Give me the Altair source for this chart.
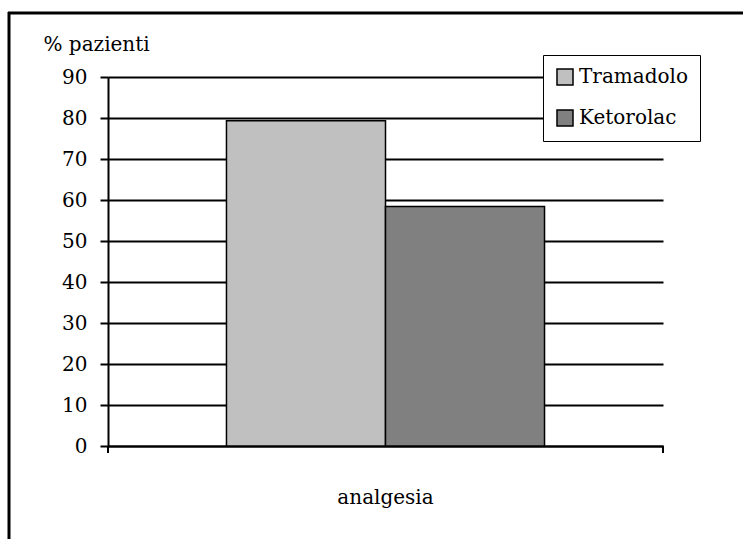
import altair as alt
import pandas as pd

categories = ["analgesia"]
series = ["Tramadolo", "Ketorolac"]
values = [79.3, 58.4]
y_ticks = [0, 10, 20, 30, 40, 50, 60, 70, 80, 90]
colors = ["#C0C0C0", "#808080"]

FONT = "DejaVu Serif"
FS = 20

df = pd.DataFrame({
    "cat": [categories[0]] * len(series),
    "serie": series,
    "val": values,
})

bars = alt.Chart(df).mark_bar(stroke="black", strokeWidth=1.5).encode(
    x=alt.X("cat:N", title=None,
            scale=alt.Scale(paddingInner=0, paddingOuter=0),
            axis=alt.Axis(labelAngle=0, ticks=False, tickSize=0, labelPadding=57,
                          labelBaseline="alphabetic", labelFont=FONT, labelFontSize=FS,
                          labelColor="black", domainColor="black", domainWidth=2)),
    xOffset=alt.XOffset("serie:N", sort=series,
                        scale=alt.Scale(paddingInner=0, paddingOuter=0.745)),
    y=alt.Y("val:Q",
            scale=alt.Scale(domain=[0, 90], nice=False),
            axis=alt.Axis(values=y_ticks, title="% pazienti", titleAngle=0,
                          titleAlign="left", titleBaseline="alphabetic",
                          titleX=-65, titleY=-27, titleFont=FONT, titleFontSize=FS,
                          titleFontWeight="normal", titleColor="black",
                          labelFont=FONT, labelFontSize=FS, labelColor="black",
                          labelPadding=13, tickSize=8, tickWidth=2, tickColor="black",
                          domainColor="black", domainWidth=2,
                          grid=True, gridColor="black", gridWidth=2)),
    color=alt.Color("serie:N", sort=series,
                    scale=alt.Scale(domain=series, range=colors),
                    legend=alt.Legend(title=None, orient="none", legendX=435, legendY=-22,
                                      symbolType="square", symbolSize=256,
                                      symbolStrokeColor="black", symbolStrokeWidth=1.5,
                                      symbolOpacity=1,
                                      labelFont=FONT, labelFontSize=FS, labelColor="black",
                                      labelOffset=4, rowPadding=19, padding=12,
                                      strokeColor="black", fillColor="white")),
)

one = alt.Data(values=[{"k": 1}])

frame_left = alt.Chart(one).mark_rule(color="black", strokeWidth=3).encode(
    x=alt.value(-99), y=alt.value(-65), y2=alt.value(470))
frame_top = alt.Chart(one).mark_rule(color="black", strokeWidth=3).encode(
    x=alt.value(-100), x2=alt.value(640), y=alt.value(-64))
tick_l = alt.Chart(one).mark_rule(color="black", strokeWidth=2).encode(
    x=alt.value(0), y=alt.value(369), y2=alt.value(376))
tick_r = alt.Chart(one).mark_rule(color="black", strokeWidth=2).encode(
    x=alt.value(555), y=alt.value(369), y2=alt.value(376))

chart = alt.layer(bars, frame_left, frame_top, tick_l, tick_r).properties(
    width=555, height=369,
    padding={"left": 108, "top": 77, "right": 80, "bottom": 93},
    autosize=alt.AutoSizeParams(type="none"),
    background="white",
).configure(font=FONT).configure_view(stroke=None)

chart.save("out.html", embed_options={"renderer": "svg", "actions": False})
